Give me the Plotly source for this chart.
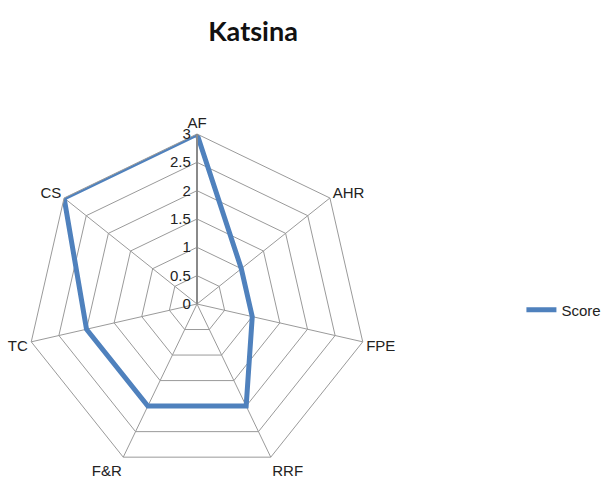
import plotly.graph_objects as go

categories = ["AF", "AHR", "FPE", "RRF", "F&R", "TC", "CS"]
scores = [3, 1, 1, 2, 2, 2, 3]
radial_ticks = [0, 0.5, 1, 1.5, 2, 2.5, 3]
radial_labels = ["0", "0.5", "1", "1.5", "2", "2.5", "3"]

font_txt = "Liberation Sans Narrow, Arial Narrow, Liberation Sans, sans-serif"

W, H = 612, 500
cx, cy, R = 197, 304, 170

fig = go.Figure()
fig.add_trace(go.Scatterpolar(
    r=scores + scores[:1],
    theta=categories + categories[:1],
    mode="lines",
    name="Score",
    line=dict(color="#4F81BD", width=5),
))

fig.update_layout(
    width=W, height=H,
    margin=dict(l=0, r=0, t=0, b=0),
    paper_bgcolor="white",
    plot_bgcolor="white",
    title=dict(text="<b>Katsina</b>", x=253 / W, xanchor="center",
               y=1 - 32 / H, yanchor="middle", yref="container",
               font=dict(family="Lato, Liberation Sans, sans-serif", size=27, color="#111")),
    polar=dict(
        domain=dict(x=[(cx - R) / W, (cx + R) / W], y=[(H - cy - R) / H, (H - cy + R) / H]),
        bgcolor="white",
        gridshape="linear",
        angularaxis=dict(
            rotation=90, direction="clockwise",
            showline=True, linecolor="#9a9a9a", linewidth=1,
            gridcolor="#9a9a9a", gridwidth=1,
            ticks="", tickfont=dict(family=font_txt, size=15, color="#222"),
        ),
        radialaxis=dict(
            range=[0, 3], angle=90, side="counterclockwise",
            tickvals=radial_ticks, ticktext=radial_labels, tickangle=90,
            showline=True, linecolor="#8a8a8a", linewidth=2,
            gridcolor="#9a9a9a", gridwidth=1,
            ticks="", tickfont=dict(family=font_txt, size=15, color="#222"),
        ),
    ),
    showlegend=True,
    legend=dict(x=0.852, y=1 - 310 / H, xanchor="left", yanchor="middle",
                font=dict(family=font_txt, size=15, color="#222"),
                bgcolor="rgba(0,0,0,0)"),
)

fig.write_html("out.html")
